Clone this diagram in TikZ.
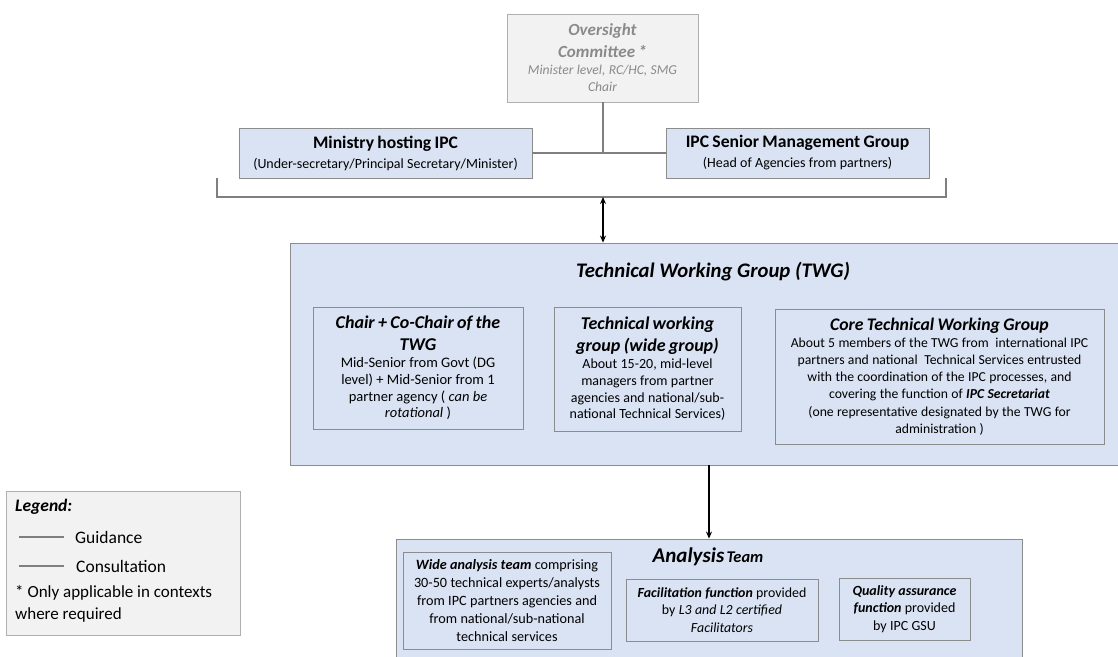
\documentclass[tikz,border=0pt]{standalone}
\usepackage{fontspec}
\setmainfont{Carlito}
\usetikzlibrary{arrows.meta}
\newcommand\fsz[2]{\fontsize{#1}{#2}\selectfont}
\definecolor{boxblue}{HTML}{DAE3F3}
\definecolor{boxgrey}{HTML}{F2F2F2}
\definecolor{edgegrey}{HTML}{8C8C8C}
\definecolor{linegrey}{HTML}{7F7F7F}
\definecolor{ovtext}{HTML}{8A8A8A}
\tikzset{
  bluebox/.style={draw=edgegrey, line width=0.9pt, fill=boxblue, inner sep=0pt, align=center},
  greybox/.style={draw=edgegrey!70, line width=0.9pt, fill=boxgrey, inner sep=0pt, align=center},
  conn/.style={draw=linegrey, line width=2pt},
  arr/.style={draw=black, line width=1.5pt, -{Stealth[length=7pt,width=6pt]}},
  darr/.style={draw=black, line width=1.5pt, {Stealth[length=7pt,width=6pt]}-{Stealth[length=7pt,width=6pt]}},
}
\begin{document}
\begin{tikzpicture}[x=1pt,y=-1pt]
\useasboundingbox (0,0) rectangle (1118,656);
\clip (0,0) rectangle (1118,656);
\fill[white] (0,0) rectangle (1118,656);

% Oversight
\node[greybox, minimum width=191pt, minimum height=88pt, text width=189pt, text=ovtext] (ov) at (602.5,58) {{\fsz{17}{22}\bfseries\itshape Oversight\\Committee *\par}{\fsz{13.6}{17}\itshape Minister level, RC/HC, SMG\\Chair\par}};

% Ministry and SMG
\node[bluebox, minimum width=293pt, minimum height=50pt, text width=291pt] (min) at (385.5,153) {{\fsz{17.6}{20}\bfseries Ministry hosting IPC\par}{\fsz{14}{20}(Under-secretary/Principal Secretary/Minister)\par}};
\node[bluebox, minimum width=263pt, minimum height=50pt, text width=261pt] (smg) at (797.5,153) {{\fsz{17.6}{20}\bfseries IPC Senior Management Group\par}{\fsz{14}{20}(Head of Agencies from partners)\par}};

\draw[conn] (min.east) -- (smg.west);
\draw[conn] (ov.south) -- (ov.south |- min.east);

% bracket
\coordinate (bl) at (217,178);
\coordinate (br) at (946,178);
\coordinate (bm) at (603,197);
\draw[conn] (bl) -- (217,197) -- (946,197) -- (br);

% TWG
\node[bluebox, minimum width=832pt, minimum height=222pt] (twg) at (706,354) {};
\node[font=\fsz{20.7}{24}\bfseries\itshape] (twgt) at (713,272) {Technical Working Group (TWG)};

\draw[darr] (bm) -- (bm |- twg.north);

\node[bluebox, minimum width=210pt, minimum height=122pt, text width=208pt] (chair) at (418,368) {{\fsz{18}{22}\bfseries\itshape Chair + Co-Chair of the\\TWG\par}{\fsz{14.5}{16.8}Mid-Senior from Govt (DG\\level) + Mid-Senior from 1\\partner agency ( \textit{can be}\\\textit{rotational} )\par}};
\node[bluebox, minimum width=187pt, minimum height=124pt, text width=185pt] (wide) at (647.5,369) {{\fsz{18}{22}\bfseries\itshape Technical working\\group (wide group)\par}{\fsz{14}{16.8}About 15-20, mid-level\\managers from partner\\agencies and national/sub-\\national Technical Services)\par}};
\node[bluebox, minimum width=329pt, minimum height=135pt, text width=327pt] (core) at (939.5,376.5) {{\fsz{17.7}{21}\bfseries\itshape Core Technical Working Group\par}{\fsz{13.7}{17.2}About 5 members of the TWG from \ international IPC\\partners and national \ Technical Services entrusted\\with the coordination of the IPC processes, and\\covering the function of \textbf{\textit{IPC Secretariat}}\\(one representative designated by the TWG for\\administration )\par}};

% Analysis team
\node[bluebox, minimum width=626pt, minimum height=140pt] (an) at (709,609) {};
\node (ant) at (708,557) {{\fsz{21}{24}\bfseries\itshape Analysis} {\fsz{16.4}{20}\bfseries\itshape Team}};
\coordinate (ax) at (709,0);
\draw[arr] (ax |- twg.south) -- (ax |- an.north);

\node[bluebox, minimum width=208pt, minimum height=97pt, text width=206pt] (wat) at (507,600.5) {\fsz{14.2}{17.8}\textbf{\textit{Wide analysis team}} comprising\\30-50 technical experts/analysts\\from IPC partners agencies and\\from national/sub-national\\technical services\par};
\node[bluebox, minimum width=192pt, minimum height=62pt, text width=190pt] (fac) at (722,610) {\fsz{13.9}{17.5}\textbf{\textit{Facilitation function}} provided\\by \textit{L3 and L2 certified}\\\textit{Facilitators}\par};
\node[bluebox, minimum width=131pt, minimum height=62pt, text width=129pt] (qa) at (904.5,609) {\fsz{14}{17.5}\textbf{\textit{Quality assurance}}\\\textbf{\textit{function}} provided\\by IPC GSU\par};

% Legend
\node[greybox, minimum width=234pt, minimum height=144pt] (leg) at (123,563) {};
\node[anchor=west, font=\fsz{17.5}{20}\bfseries\itshape, inner sep=0pt] (legt) at (15,507) {Legend:};
\coordinate (g1) at (19,537);
\coordinate (g2) at (64,537);
\coordinate (c1) at (19,566);
\coordinate (c2) at (64,566);
\draw[conn] (g1) -- (g2);
\draw[conn] (c1) -- (c2);
\node[anchor=west, font=\fsz{17.5}{20}, inner sep=0pt] (lg) at (75,537) {Guidance};
\node[anchor=west, font=\fsz{17.5}{20}, inner sep=0pt] (lc) at (76,566) {Consultation};
\node[anchor=north west, align=left, inner sep=0pt, font=\fsz{17}{22}] (ln) at (15,585) {* Only applicable in contexts\\where required};
\end{tikzpicture}
\end{document}
